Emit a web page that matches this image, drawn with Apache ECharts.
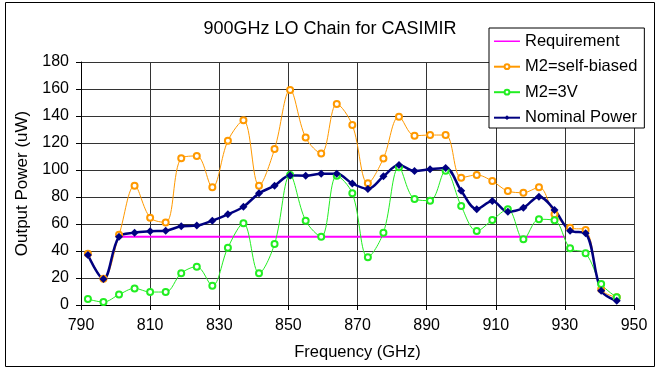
<!DOCTYPE html>
<html>
<head>
<meta charset="utf-8">
<script src="https://cdn.jsdelivr.net/npm/echarts@6/dist/echarts.min.js"></script>
<style>
  html, body { margin: 0; padding: 0; background: #fff; }
  #main-chart { width: 660px; height: 369px; }
</style>
</head>
<body>
<div id="main-chart"></div>
<script>
// frequency points (GHz)
const freqs = [792, 796.5, 801, 805.5, 810, 814.5, 819, 823.5, 828, 832.5, 837, 841.5, 846, 850.5, 855,
  859.5, 864, 868.5, 873, 877.5, 882, 886.5, 891, 895.5, 900, 904.5, 909, 913.5, 918, 922.5, 927, 931.5,
  936, 940.5, 945];

const selfBiased = [38, 19.5, 52, 88.4, 64.7, 61.2, 108.7, 110.4, 87.2, 121.7, 136.8, 88.4, 115.5, 159.3, 124,
  112.3, 148.9, 133.3, 90.1, 108.6, 139.5, 125.4, 125.9, 125.9, 94.3, 96.3, 91.8, 84.4, 83.2, 87.2, 67.2, 57.3,
  55.6, 11.6, 5.7];

const m2At3V = [4.4, 2.2, 7.7, 12.3, 9.6, 9.6, 23.5, 28.4, 14.3, 42.5, 60.5, 23.5, 45.2, 96.3, 62.5,
  50.6, 95.8, 82.7, 35.3, 53.6, 102, 78.5, 77.3, 99.5, 73.3, 54.8, 63, 70.9, 48.7, 63.5, 62.7, 42,
  38.3, 15.6, 5.7];

const nominal = [37, 19.3, 50.6, 53.6, 54.6, 55, 58.3, 58.8, 62.5, 67.2, 72.8, 82.7, 88.4, 96, 95.8,
  97.3, 97.3, 90, 86, 95.3, 103.7, 99.3, 100.5, 101.5, 84.7, 71, 77, 69.1, 72, 80.2, 70.4, 55,
  53.1, 10.6, 3.2];

const reqFreqs = [801, 930];
const reqValues = [50.5, 50.5];

const xTicks = [790, 810, 830, 850, 870, 890, 910, 930, 950];

function pairs(xs, ys) {
    return xs.map((x, i) => [x, ys[i]]);
}

const font = 'Liberation Sans';
const myChart = echarts.init(document.getElementById('main-chart'));

// plain line icon (tiny corner dots keep the line centred in the icon box)
const lineIcon = 'path://M0,2.2h26v1.6h-26zM0,0h0.01v0.01h-0.01zM0,6h0.01v0.01h-0.01z';

const option = {
    animation: false,
    backgroundColor: '#fff',
    title: {
        text: '900GHz LO Chain for CASIMIR',
        left: 'center',
        top: 15,
        textStyle: { color: '#000', fontFamily: font, fontWeight: 'normal', fontSize: 18 },
    },
    legend: {
        orient: 'vertical',
        left: 489,
        top: 28,
        itemWidth: 26,
        itemHeight: 6,
        itemGap: 8.5,
        padding: [4.7, 7, 1.8, 4],
        backgroundColor: '#fff',
        borderColor: '#000',
        borderWidth: 1,
        borderRadius: 0,
        textStyle: { color: '#000', fontFamily: font, fontSize: 16.5, lineHeight: 16 },
        data: [{ name: 'Requirement', icon: lineIcon }, 'M2=self-biased', 'M2=3V', 'Nominal Power'],
    },
    grid: { left: 81, right: 26, top: 62, bottom: 64 },
    xAxis: {
        type: 'value',
        min: xTicks[0],
        max: xTicks[xTicks.length - 1],
        interval: 20,
        name: 'Frequency (GHz)',
        nameLocation: 'middle',
        nameGap: 39,
        nameTextStyle: { color: '#000', fontFamily: font, fontSize: 16.5 },
        axisLine: { lineStyle: { color: '#000', width: 1 } },
        axisTick: { inside: false, length: 5, lineStyle: { color: '#000' } },
        axisLabel: { color: '#000', fontFamily: font, fontSize: 16, margin: 13 },
        splitLine: { show: true, lineStyle: { color: '#333', width: 1 } },
    },
    yAxis: {
        type: 'value',
        min: 0,
        max: 180,
        interval: 20,
        name: 'Output Power (uW)',
        nameLocation: 'middle',
        nameGap: 50,
        nameTextStyle: { color: '#000', fontFamily: font, fontSize: 17 },
        axisLine: { show: true, lineStyle: { color: '#000', width: 1 } },
        axisTick: { show: true, length: 5, lineStyle: { color: '#000' } },
        axisLabel: { color: '#000', fontFamily: font, fontSize: 16, margin: 12 },
        splitLine: { show: true, lineStyle: { color: '#333', width: 1 } },
    },
    graphic: [{
        type: 'rect',
        shape: { x: 5.5, y: 2.5, width: 649, height: 364 },
        style: { fill: 'none', stroke: '#000', lineWidth: 1 },
        silent: true,
        z: -1,
    }],
    series: [{
        name: 'Requirement',
        type: 'line',
        symbol: 'none',
        color: '#FF00FF',
        lineStyle: { color: '#FF00FF', width: 2 },
        data: pairs(reqFreqs, reqValues),
    }, {
        name: 'M2=self-biased',
        type: 'line',
        smooth: 0.35,
        symbol: 'emptyCircle',
        symbolSize: 6,
        color: '#FF9900',
        itemStyle: { color: '#FF9900', borderWidth: 1 },
        lineStyle: { color: '#FF9900', width: 1 },
        data: pairs(freqs, selfBiased),
    }, {
        name: 'M2=3V',
        type: 'line',
        smooth: 0.35,
        symbol: 'emptyCircle',
        symbolSize: 6,
        color: '#22EE22',
        itemStyle: { color: '#22EE22', borderWidth: 1 },
        lineStyle: { color: '#22EE22', width: 1 },
        data: pairs(freqs, m2At3V),
    }, {
        name: 'Nominal Power',
        type: 'line',
        smooth: 0.35,
        symbol: 'diamond',
        symbolSize: 8,
        color: '#000080',
        itemStyle: { color: '#000080' },
        lineStyle: { color: '#000080', width: 2.5 },
        data: pairs(freqs, nominal),
    }]
};

myChart.setOption(option);
</script>
</body>
</html>
